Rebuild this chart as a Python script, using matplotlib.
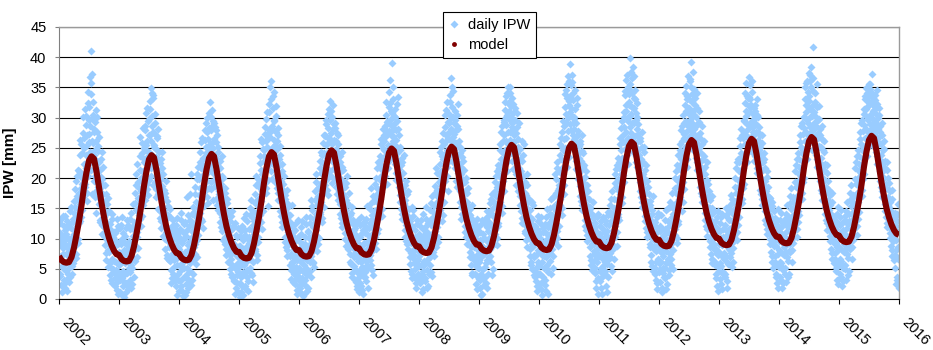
import matplotlib
matplotlib.use("Agg")
import matplotlib.pyplot as plt
from matplotlib.lines import Line2D

plt.rcParams['font.family'] = ['Liberation Sans', 'DejaVu Sans']

years = list(range(2002, 2016))
year_ticks = list(range(2002, 2017))

# Daily IPW [mm]: two interleaved 3-day samplings per year, one row per month
ipw_2002 = [
    9.8, 4.2, 12.5, 7.1, 2.3, 10.6, 5.5, 13.8, 8.4, 3.1,
    6.2, 11.4, 1.9, 8.8, 4.6, 12.9, 3.3, 7.7, 10.1, 5.2,
    2.8, 9.3, 14.6, 6.5, 11.8, 4.1, 8.2, 13.2, 5.9, 10.7,
    8.6, 15.2, 11.3, 19.5, 6.8, 13.7, 17.1, 9.9, 21.4, 12.6,
    16.4, 23.8, 12.9, 20.2, 25.6, 14.8, 19.1, 30.1, 17.5, 22.3,
    24.9, 18.6, 31.5, 21.7, 28.8, 16.2, 25.4, 34.2, 20.3, 29.6,
    27.3, 36.8, 22.5, 33.9, 41.1, 17.4, 37.2, 25.8, 30.4, 19.6,
    28.1, 16.9, 24.7, 31.2, 14.3, 22.8, 27.6, 18.5, 25.3, 15.7,
    22.6, 12.8, 18.4, 15.9, 23.1, 10.7, 19.8, 14.2, 17.3, 11.9,
    13.5, 8.9, 18.9, 11.2, 6.4, 15.7, 9.8, 12.4, 5.3, 14.6,
    7.8, 11.6, 3.9, 9.4, 5.1, 13.3, 2.6, 8.5, 10.2, 4.4,
    6.3, 2.1, 9.7, 4.8, 11.2, 1.5, 7.4, 3.6, 12.1, 5.7,
]
ipw_2002_b = [
    11.1, 6.7, 3.8, 13.2, 8.9, 1.2, 10.3, 5.1, 7.4, 12.0,
    9.6, 2.7, 13.8, 5.9, 10.8, 7.3, 1.4, 11.9, 4.1, 8.3,
    12.4, 7.2, 3.6, 10.1, 15.3, 5.4, 9.1, 12.8, 6.6, 16.2,
    14.3, 10.6, 18.2, 7.5, 16.4, 12.1, 20.3, 9.2, 14.9, 17.6,
    21.2, 15.7, 26.3, 18.3, 13.6, 24.1, 20.6, 16.9, 27.5, 19.4,
    26.7, 22.4, 19.1, 30.3, 23.8, 27.2, 17.5, 32.4, 21.1, 25.9,
    31.8, 24.4, 28.6, 35.7, 21.3, 29.9, 26.1, 32.6, 23.3, 27.7,
    23.9, 29.3, 20.4, 26.2, 17.8, 30.1, 21.6, 24.5, 19.2, 26.8,
    16.7, 21.4, 13.1, 20.2, 16.1, 24.4, 12.2, 18.9, 21.8, 14.8,
    10.4, 16.2, 12.9, 7.6, 17.4, 10.1, 14.2, 8.1, 16.7, 11.5,
    9.1, 5.9, 12.4, 3.2, 10.8, 6.7, 14.1, 4.9, 8.1, 11.1,
    8.6, 3.4, 10.9, 6.1, 2.7, 13.2, 4.3, 9.1, 0.9, 7.8,
]
ipw_2003 = [
    4.3, 9.6, 1.2, 7.5, 12.3, 3.4, 6.8, 10.9, 2.2, 8.1,
    0.4, 5.9, 9.2, 2.7, 7.3, 13.1, 4.5, 1.6, 8.7, 6.1,
    7.9, 3.2, 11.5, 5.6, 14.2, 8.8, 2.5, 10.4, 6.7, 12.8,
    9.1, 15.8, 6.3, 12.6, 18.9, 10.2, 22.4, 8.4, 16.7, 13.9,
    14.6, 21.3, 26.8, 17.9, 12.1, 24.2, 19.4, 28.3, 15.5, 22.7,
    20.8, 27.9, 16.4, 24.6, 30.7, 18.2, 26.1, 22.9, 29.4, 19.7,
    24.3, 32.8, 27.2, 34.9, 21.6, 34.1, 28.7, 18.9, 33.2, 25.5,
    27.4, 19.3, 30.6, 23.5, 16.8, 26.9, 21.1, 28.2, 14.9, 24.4,
    17.6, 22.5, 13.4, 19.8, 11.7, 24.3, 15.2, 20.6, 10.4, 18.1,
    12.7, 16.9, 8.3, 14.1, 19.5, 10.6, 7.2, 15.4, 11.8, 9.5,
    6.4, 10.3, 13.6, 4.8, 8.9, 11.9, 3.5, 7.6, 12.2, 5.3,
    9.9, 3.8, 7.1, 11.4, 2.2, 5.6, 13.4, 4.1, 8.6, 1.3,
]
ipw_2003_b = [
    5.8, 11.7, 3.1, 9.1, 0.9, 6.2, 13.6, 4.7, 10.1, 2.8,
    3.9, 10.4, 6.6, 1.1, 11.8, 4.3, 8.1, 2.1, 12.2, 5.1,
    9.6, 4.4, 13.3, 7.1, 1.8, 11.9, 5.2, 15.7, 8.1, 3.7,
    11.4, 17.6, 8.2, 14.8, 20.7, 11.1, 6.9, 15.1, 19.3, 12.2,
    18.4, 13.3, 23.6, 20.1, 16.6, 25.8, 13.8, 21.1, 17.2, 24.9,
    23.2, 17.8, 28.6, 21.4, 25.4, 19.1, 31.6, 23.7, 17.2, 27.1,
    29.8, 22.7, 31.5, 26.1, 20.3, 30.2, 23.9, 27.6, 33.8, 22.1,
    25.1, 21.9, 29.1, 18.2, 24.8, 20.1, 26.7, 17.4, 23.1, 19.9,
    20.9, 14.6, 16.8, 23.2, 12.9, 18.7, 21.6, 14.1, 17.3, 12.2,
    14.8, 9.9, 17.6, 11.1, 13.3, 6.8, 16.2, 10.1, 13.9, 8.6,
    9.4, 14.9, 6.3, 11.2, 2.6, 9.8, 7.1, 13.1, 4.1, 10.7,
    6.4, 10.6, 2.9, 8.9, 12.3, 0.7, 6.8, 9.7, 3.2, 11.1,
]
ipw_2004 = [
    8.2, 2.9, 11.6, 5.4, 14.3, 1.4, 9.7, 6.6, 3.5, 12.4,
    5.1, 0.6, 7.8, 10.5, 2.4, 16.8, 4.2, 8.9, 1.8, 6.3,
    9.4, 4.7, 13.1, 7.2, 20.6, 3.1, 11.3, 6.5, 15.2, 8.6,
    11.9, 7.4, 17.3, 13.6, 5.8, 19.9, 9.7, 15.1, 21.8, 12.4,
    15.7, 22.6, 18.3, 13.2, 25.9, 20.4, 16.6, 23.3, 11.8, 19.2,
    21.4, 26.3, 17.8, 24.1, 29.2, 19.5, 27.6, 22.8, 15.9, 25.3,
    30.8, 24.7, 32.6, 19.4, 27.9, 31.3, 22.1, 29.5, 16.3, 26.4,
    23.6, 28.4, 18.7, 25.9, 21.2, 15.6, 27.1, 20.5, 24.3, 17.4,
    19.6, 14.3, 22.8, 11.9, 17.1, 20.4, 13.5, 18.2, 9.8, 16.2,
    12.3, 17.5, 9.1, 14.6, 7.3, 11.4, 15.8, 6.2, 10.7, 13.9,
    8.4, 4.9, 11.3, 6.7, 13.8, 3.6, 9.5, 5.5, 12.1, 7.8,
    3.2, 7.9, 0.9, 5.7, 10.6, 2.6, 8.3, 4.4, 11.8, 6.1,
]
ipw_2004_b = [
    10.2, 4.6, 7.7, 13.1, 2.1, 9.2, 5.9, 11.1, 0.5, 7.1,
    9.9, 3.7, 12.8, 6.9, 1.1, 11.4, 5.2, 8.1, 13.9, 3.1,
    12.1, 5.9, 17.4, 10.1, 2.3, 14.1, 7.9, 12.6, 4.1, 10.9,
    14.4, 9.1, 18.6, 11.6, 16.1, 6.9, 20.6, 13.1, 10.6, 17.2,
    19.9, 14.3, 24.4, 17.1, 21.6, 12.9, 26.7, 18.6, 22.2, 15.4,
    23.3, 18.6, 27.9, 20.7, 25.1, 16.8, 29.9, 22.1, 26.5, 18.3,
    28.3, 21.3, 25.6, 30.1, 18.2, 23.8, 28.6, 20.9, 24.9, 29.1,
    26.2, 19.9, 22.6, 27.9, 16.6, 23.1, 19.1, 25.1, 14.8, 21.8,
    17.9, 21.7, 12.8, 19.1, 15.2, 23.7, 11.2, 16.9, 20.1, 14.1,
    15.1, 10.2, 18.4, 8.3, 13.1, 16.6, 9.8, 12.1, 7.9, 14.4,
    10.6, 7.2, 12.9, 4.1, 9.1, 14.6, 5.6, 8.2, 11.7, 2.9,
    9.1, 5.1, 12.6, 1.8, 7.2, 3.9, 10.2, 6.9, 1.2, 8.7,
]
ipw_2005 = [
    5.3, 0.3, 8.7, 3.6, 11.2, 6.9, 2.1, 9.8, 4.5, 13.4,
    7.4, 3.9, 10.6, 1.7, 6.2, 12.9, 4.8, 8.1, 2.9, 9.3,
    11.5, 6.6, 15.1, 4.3, 9.7, 13.6, 7.8, 2.8, 12.2, 8.9,
    10.8, 17.4, 7.9, 14.2, 20.3, 12.1, 6.5, 16.6, 9.4, 13.3,
    18.6, 13.9, 22.5, 26.4, 16.2, 20.7, 11.6, 24.8, 17.3, 21.1,
    23.7, 19.2, 27.3, 29.8, 17.6, 25.1, 21.9, 26.6, 15.4, 22.4,
    32.2, 26.8, 35.1, 22.6, 36.0, 28.7, 19.9, 33.6, 25.2, 29.4,
    34.3, 24.5, 19.3, 27.7, 31.9, 21.8, 26.2, 17.5, 28.3, 23.1,
    22.1, 16.4, 25.3, 13.7, 19.6, 21.2, 11.9, 18.1, 15.3, 20.3,
    14.8, 10.3, 17.2, 8.6, 12.5, 15.9, 7.1, 11.1, 13.8, 9.2,
    9.7, 5.6, 12.8, 7.4, 3.3, 10.9, 15.6, 6.2, 8.8, 4.1,
    5.2, 9.6, 2.4, 7.3, 12.6, 0.9, 6.4, 3.8, 10.3, 4.7,
]
ipw_2005_b = [
    7.9, 2.6, 10.4, 5.7, 1.1, 12.1, 4.2, 8.3, 0.6, 6.4,
    5.7, 11.4, 2.2, 8.6, 14.1, 3.6, 10.1, 6.7, 1.3, 9.9,
    10.2, 5.1, 13.9, 8.1, 16.4, 3.9, 11.4, 6.1, 14.6, 9.6,
    12.9, 8.3, 15.8, 11.2, 18.9, 7.2, 14.1, 19.8, 10.2, 15.3,
    19.4, 15.1, 23.6, 12.8, 21.3, 17.9, 25.9, 14.6, 19.8, 22.8,
    24.6, 20.1, 28.4, 18.3, 26.1, 22.8, 30.9, 19.7, 23.4, 27.9,
    30.9, 24.1, 27.6, 33.1, 21.1, 28.1, 24.8, 31.6, 22.4, 26.3,
    29.6, 22.7, 25.4, 20.5, 30.2, 18.4, 24.8, 27.1, 16.3, 22.2,
    18.7, 23.9, 14.6, 20.8, 17.2, 12.8, 22.4, 16.9, 19.1, 13.8,
    13.2, 16.6, 9.4, 14.4, 11.8, 18.1, 8.1, 12.9, 15.2, 10.4,
    11.3, 7.1, 13.9, 4.8, 9.2, 12.1, 6.1, 10.4, 2.8, 8.3,
    6.9, 3.1, 11.4, 5.3, 8.2, 1.5, 9.9, 4.6, 13.1, 2.2,
]
ipw_2006 = [
    3.1, 8.4, 1.2, 6.1, 10.7, 2.6, 12.9, 4.7, 7.5, 0.8,
    5.6, 9.1, 2.3, 7.2, 13.6, 3.9, 6.4, 11.3, 1.9, 8.3,
    8.8, 12.5, 4.6, 16.3, 7.1, 10.4, 14.7, 6.2, 11.9, 5.3,
    13.2, 9.5, 17.8, 11.4, 20.6, 7.9, 15.5, 12.7, 18.4, 10.1,
    16.9, 21.7, 14.1, 24.3, 19.2, 12.8, 22.6, 17.5, 25.8, 15.3,
    22.3, 27.1, 18.9, 25.4, 29.6, 20.7, 24.2, 28.3, 17.2, 26.5,
    31.4, 23.8, 32.7, 27.4, 20.3, 30.1, 25.6, 32.1, 22.7, 28.9,
    26.3, 29.2, 21.4, 24.8, 18.6, 27.5, 22.9, 16.3, 25.7, 20.1,
    20.8, 15.7, 23.6, 13.4, 18.9, 21.9, 12.6, 17.4, 14.8, 19.3,
    14.2, 18.6, 10.9, 16.3, 8.7, 13.1, 20.4, 11.6, 9.4, 15.5,
    11.3, 7.5, 13.9, 5.8, 9.6, 15.2, 4.3, 10.8, 12.4, 6.9,
    8.2, 4.9, 11.7, 2.8, 7.1, 9.9, 1.6, 6.3, 13.1, 3.7,
]
ipw_2006_b = [
    5.2, 9.4, 1.8, 7.1, 11.9, 3.4, 6.6, 0.5, 9.1, 4.4,
    7.9, 3.1, 10.2, 5.1, 12.4, 1.4, 8.6, 4.6, 11.1, 6.8,
    10.1, 6.1, 13.6, 9.2, 3.6, 15.4, 7.7, 12.2, 5.9, 9.9,
    11.9, 16.3, 8.6, 14.1, 19.3, 10.4, 13.6, 17.1, 9.1, 15.6,
    18.6, 14.4, 22.9, 16.1, 20.8, 13.4, 23.9, 18.1, 21.1, 27.2,
    24.1, 19.6, 26.9, 21.9, 28.9, 18.1, 23.4, 30.6, 20.1, 25.9,
    26.7, 21.1, 29.6, 24.4, 31.1, 19.2, 26.1, 23.1, 28.1, 21.6,
    23.7, 28.3, 19.8, 26.2, 21.9, 17.4, 24.4, 20.6, 27.2, 18.9,
    17.9, 22.6, 14.1, 19.8, 16.1, 24.4, 11.9, 18.4, 21.3, 15.2,
    12.4, 16.9, 9.9, 14.7, 19.2, 11.1, 15.9, 8.2, 13.6, 17.6,
    8.6, 12.9, 6.2, 10.1, 14.3, 3.6, 9.2, 13.1, 7.3, 11.4,
    5.4, 10.8, 3.1, 8.6, 12.4, 2.1, 7.7, 4.3, 10.3, 1.1,
]
ipw_2007 = [
    6.8, 2.7, 10.3, 4.9, 13.6, 8.1, 1.5, 11.4, 3.8, 7.6,
    9.2, 4.4, 12.1, 6.3, 2.9, 15.4, 7.8, 10.6, 5.1, 8.5,
    11.8, 7.2, 14.9, 5.6, 18.3, 9.6, 13.3, 3.9, 10.9, 16.2,
    14.6, 10.2, 19.1, 12.8, 8.3, 17.4, 21.6, 11.5, 15.9, 13.4,
    19.8, 15.2, 23.6, 17.7, 26.5, 13.8, 21.4, 24.9, 18.6, 27.2,
    26.1, 21.3, 28.7, 23.9, 30.4, 19.1, 27.3, 29.5, 22.6, 31.8,
    34.2, 27.6, 36.3, 29.8, 25.4, 39.0, 30.7, 26.9, 35.1, 28.2,
    28.9, 22.4, 31.5, 26.3, 19.7, 29.4, 24.1, 33.4, 21.8, 27.1,
    21.5, 17.2, 24.6, 14.9, 19.8, 22.7, 13.2, 18.3, 16.4, 23.9,
    15.7, 11.4, 18.8, 9.6, 14.1, 12.5, 17.3, 8.2, 13.6, 10.7,
    10.8, 6.9, 13.4, 4.6, 9.2, 12.1, 3.4, 8.1, 14.7, 5.9,
    7.3, 3.5, 10.2, 5.8, 1.9, 8.6, 12.4, 4.2, 6.7, 9.8,
]
ipw_2007_b = [
    9.1, 4.1, 12.2, 6.1, 2.2, 10.9, 5.3, 8.9, 0.9, 12.7,
    6.6, 10.9, 3.6, 8.1, 13.2, 5.6, 11.7, 1.8, 9.6, 7.1,
    8.9, 12.6, 6.4, 15.8, 10.3, 4.8, 13.9, 8.1, 17.1, 11.6,
    12.1, 16.6, 9.2, 20.1, 13.9, 18.4, 10.9, 15.1, 22.6, 14.2,
    18.1, 22.4, 16.6, 25.7, 20.3, 14.9, 23.1, 19.2, 28.1, 21.9,
    24.6, 28.1, 20.4, 26.9, 32.6, 23.1, 29.3, 25.4, 21.6, 27.8,
    29.1, 24.6, 32.4, 27.1, 31.1, 23.3, 28.6, 33.1, 26.1, 30.2,
    25.4, 30.1, 23.6, 27.9, 20.9, 32.3, 25.1, 22.9, 28.1, 18.6,
    20.3, 25.1, 16.1, 22.1, 18.9, 14.1, 23.3, 17.8, 20.9, 15.8,
    13.1, 16.4, 10.3, 19.6, 12.2, 15.1, 9.1, 17.9, 11.1, 14.9,
    9.8, 12.9, 5.8, 11.6, 7.6, 15.3, 4.1, 10.1, 13.8, 6.6,
    8.1, 4.9, 11.4, 2.6, 9.1, 6.3, 13.1, 3.3, 7.9, 10.8,
]
ipw_2008 = [
    5.4, 10.2, 2.6, 7.9, 13.1, 4.1, 8.8, 1.7, 11.5, 6.3,
    8.7, 3.4, 11.9, 6.1, 15.3, 4.8, 9.5, 2.2, 12.6, 7.4,
    10.6, 14.8, 6.9, 12.2, 4.5, 17.1, 9.3, 13.5, 7.7, 11.1,
    15.4, 11.2, 18.7, 8.6, 14.3, 20.9, 12.5, 16.8, 10.3, 19.4,
    17.6, 22.3, 14.7, 25.1, 19.9, 12.9, 23.7, 18.2, 27.4, 16.1,
    23.2, 28.4, 19.6, 26.1, 31.2, 21.8, 24.7, 29.3, 17.9, 27.5,
    30.6, 25.2, 33.8, 28.1, 36.5, 22.9, 31.7, 26.8, 34.4, 29.2,
    27.3, 31.1, 22.4, 25.8, 19.6, 28.6, 23.7, 32.2, 20.8, 26.1,
    22.4, 17.8, 25.2, 15.3, 20.6, 23.5, 14.1, 19.2, 16.7, 21.3,
    16.4, 12.1, 19.3, 10.2, 14.8, 17.6, 9.1, 13.5, 11.6, 15.2,
    12.3, 7.8, 14.9, 5.7, 10.4, 13.2, 4.3, 9.1, 11.6, 6.5,
    8.6, 4.1, 11.4, 6.8, 2.5, 9.7, 13.3, 5.2, 7.5, 3.3,
]
ipw_2008_b = [
    7.1, 3.3, 12.1, 5.6, 9.6, 1.2, 8.1, 14.1, 4.6, 10.6,
    5.6, 10.1, 2.9, 13.3, 7.9, 1.8, 11.1, 6.6, 9.9, 4.1,
    8.4, 13.1, 5.6, 15.9, 10.1, 12.9, 3.8, 9.9, 14.4, 7.1,
    13.3, 17.6, 9.9, 15.9, 21.6, 11.9, 18.1, 13.9, 9.4, 17.2,
    20.6, 16.1, 24.3, 21.1, 15.6, 26.1, 18.9, 23.1, 13.9, 20.9,
    25.6, 22.1, 30.4, 24.1, 27.1, 20.3, 32.6, 26.6, 22.6, 29.1,
    27.6, 32.6, 24.4, 29.9, 26.1, 35.1, 27.9, 23.6, 30.1, 25.9,
    24.6, 29.6, 21.6, 27.9, 23.1, 30.4, 18.6, 25.3, 28.1, 21.3,
    18.9, 24.1, 16.1, 21.9, 13.3, 19.9, 24.6, 17.2, 22.8, 15.6,
    13.9, 17.9, 11.1, 15.7, 20.1, 12.9, 16.1, 10.6, 18.4, 14.1,
    9.9, 13.9, 6.9, 11.9, 8.6, 15.6, 3.9, 10.8, 7.1, 12.7,
    9.1, 5.6, 12.4, 3.9, 10.6, 7.1, 1.6, 8.1, 11.9, 6.1,
]
ipw_2009 = [
    6.5, 1.9, 9.8, 4.2, 12.4, 7.6, 0.9, 10.7, 3.3, 8.4,
    10.1, 5.3, 13.2, 2.7, 8.1, 14.6, 6.4, 11.3, 4.1, 9.2,
    12.8, 8.3, 15.9, 6.1, 11.1, 17.4, 9.6, 13.9, 4.9, 10.5,
    13.6, 17.9, 10.7, 20.3, 15.4, 8.9, 18.6, 12.1, 22.1, 14.5,
    20.4, 16.1, 24.6, 18.3, 27.7, 14.2, 22.5, 26.1, 19.6, 29.3,
    27.1, 31.3, 23.4, 33.6, 28.8, 21.2, 30.4, 35.0, 25.6, 32.2,
    29.7, 34.1, 26.3, 31.9, 24.1, 33.2, 28.4, 21.5, 30.8, 27.2,
    25.9, 29.6, 21.3, 27.4, 18.8, 24.2, 30.7, 22.6, 26.5, 19.9,
    21.7, 17.1, 24.8, 14.6, 20.2, 22.9, 13.4, 18.5, 16.3, 25.6,
    15.8, 19.4, 11.3, 17.2, 9.7, 14.1, 20.6, 12.4, 10.5, 16.6,
    11.9, 8.2, 14.7, 6.1, 10.6, 13.3, 4.9, 9.4, 15.6, 7.3,
    8.9, 4.6, 12.1, 2.9, 7.2, 10.3, 1.4, 6.1, 13.7, 5.4,
]
ipw_2009_b = [
    5.1, 11.1, 3.1, 8.9, 0.7, 7.1, 13.1, 4.9, 9.9, 2.3,
    7.4, 12.4, 3.6, 9.8, 5.9, 11.9, 1.9, 8.6, 13.8, 6.9,
    10.1, 14.6, 7.1, 12.2, 16.6, 8.8, 3.9, 11.9, 15.1, 9.1,
    16.1, 11.4, 19.4, 13.1, 17.1, 10.1, 21.1, 15.6, 12.6, 19.1,
    21.6, 17.4, 25.6, 19.1, 23.1, 15.4, 28.6, 20.9, 24.1, 17.9,
    29.6, 24.6, 32.6, 26.1, 30.1, 22.6, 34.1, 27.6, 24.1, 31.1,
    32.6, 27.6, 35.0, 25.1, 30.1, 22.9, 29.1, 25.9, 32.3, 23.9,
    27.9, 23.1, 31.6, 24.6, 20.6, 28.4, 22.1, 25.1, 17.9, 29.1,
    19.1, 23.1, 15.6, 21.1, 18.1, 26.1, 12.6, 20.3, 23.9, 17.4,
    13.1, 17.6, 10.9, 15.1, 12.1, 18.9, 8.6, 14.9, 16.1, 11.9,
    10.1, 13.6, 7.1, 12.6, 5.6, 9.1, 16.1, 8.8, 11.4, 3.9,
    6.9, 10.9, 3.6, 9.6, 5.1, 11.6, 2.1, 8.1, 12.9, 4.1,
]
ipw_2010 = [
    5.8, 10.9, 2.4, 8.1, 13.5, 0.6, 7.2, 11.8, 3.7, 9.5,
    7.1, 12.4, 3.2, 9.8, 1.3, 14.9, 5.6, 10.6, 4.4, 8.3,
    9.9, 14.1, 6.3, 11.7, 16.6, 8.2, 13.3, 5.1, 10.8, 15.4,
    12.6, 17.2, 9.4, 19.8, 14.5, 22.6, 11.3, 16.1, 8.7, 18.9,
    18.3, 23.9, 15.6, 26.7, 20.8, 13.9, 25.2, 21.9, 29.5, 17.4,
    26.4, 31.8, 22.7, 29.1, 34.6, 24.3, 33.2, 27.8, 36.9, 23.5,
    32.7, 38.8, 28.9, 35.4, 25.6, 37.1, 30.3, 27.2, 34.1, 29.8,
    28.2, 24.6, 31.4, 21.5, 26.9, 33.2, 23.1, 27.8, 19.8, 25.3,
    23.3, 18.7, 26.1, 16.2, 21.4, 24.5, 14.8, 19.9, 17.6, 22.2,
    17.3, 13.1, 20.2, 11.4, 15.7, 18.8, 9.6, 14.2, 12.5, 16.5,
    12.7, 8.6, 15.3, 6.4, 11.2, 14.1, 4.8, 9.7, 13.4, 7.5,
    9.1, 4.3, 11.9, 6.6, 1.8, 8.2, 13.6, 3.5, 7.4, 10.5,
]
ipw_2010_b = [
    7.9, 4.1, 10.1, 1.6, 12.4, 6.1, 9.1, 2.9, 11.1, 5.1,
    9.1, 2.3, 11.1, 6.9, 13.6, 4.9, 8.9, 0.9, 11.9, 7.6,
    12.6, 7.6, 15.1, 9.6, 4.1, 13.9, 11.1, 16.9, 7.1, 12.1,
    15.1, 10.6, 20.6, 13.6, 17.6, 10.1, 21.6, 14.1, 18.1, 12.1,
    21.1, 16.6, 25.6, 19.6, 23.1, 15.1, 27.6, 20.6, 24.6, 18.9,
    28.6, 24.9, 33.9, 26.6, 30.6, 21.9, 35.6, 29.9, 25.1, 32.1,
    36.1, 30.9, 33.6, 27.9, 31.6, 24.9, 35.9, 29.1, 32.9, 26.4,
    30.1, 26.1, 34.6, 22.9, 29.1, 25.6, 32.1, 21.1, 27.1, 24.1,
    20.9, 25.6, 17.1, 22.9, 19.1, 27.1, 15.6, 21.9, 24.1, 18.4,
    14.9, 19.1, 12.1, 16.9, 21.1, 13.9, 10.6, 17.9, 15.1, 11.1,
    10.1, 14.9, 7.1, 12.1, 5.6, 13.9, 9.1, 16.1, 6.1, 11.6,
    7.9, 12.6, 5.1, 9.6, 2.9, 11.1, 6.1, 14.1, 0.9, 8.6,
]
ipw_2011 = [
    7.3, 2.9, 10.8, 5.1, 12.9, 0.8, 8.5, 4.2, 11.6, 6.4,
    9.6, 4.7, 13.1, 7.3, 2.1, 11.2, 5.8, 14.4, 3.6, 8.9,
    12.2, 7.6, 15.6, 9.8, 5.4, 13.7, 17.9, 8.3, 11.4, 6.6,
    14.4, 10.3, 19.2, 12.7, 21.5, 8.8, 16.3, 23.4, 13.5, 17.8,
    21.6, 17.3, 25.7, 19.2, 28.3, 15.8, 23.4, 27.1, 20.5, 30.9,
    28.5, 33.7, 24.8, 31.1, 36.2, 26.3, 29.9, 35.1, 22.4, 32.6,
    34.8, 39.8, 30.2, 37.6, 27.4, 36.5, 31.8, 38.3, 25.9, 33.3,
    29.1, 34.5, 25.3, 30.8, 22.7, 28.1, 32.4, 24.6, 27.3, 20.9,
    23.8, 19.4, 26.6, 16.9, 22.1, 25.1, 15.3, 20.7, 18.2, 24.3,
    18.1, 13.7, 21.3, 11.8, 16.2, 19.6, 10.2, 14.9, 12.7, 17.4,
    13.5, 9.1, 16.2, 7.3, 11.6, 14.8, 5.4, 10.4, 12.3, 8.2,
    9.7, 5.2, 12.8, 3.1, 7.9, 11.1, 1.7, 6.6, 14.2, 4.4,
]
ipw_2011_b = [
    9.1, 4.6, 12.1, 6.9, 1.9, 10.1, 3.6, 13.6, 7.9, 5.6,
    11.1, 6.1, 8.1, 12.4, 3.9, 10.4, 1.1, 9.1, 13.9, 6.6,
    10.1, 14.4, 6.9, 12.9, 16.6, 9.1, 4.6, 13.1, 10.9, 15.1,
    16.6, 12.1, 20.6, 15.1, 18.6, 11.1, 22.1, 14.1, 19.9, 13.1,
    22.6, 18.6, 26.6, 20.6, 24.6, 16.9, 29.4, 22.1, 25.9, 19.4,
    30.1, 25.9, 34.4, 27.6, 32.1, 23.9, 37.1, 29.4, 26.6, 33.9,
    32.1, 28.4, 35.6, 30.6, 26.6, 34.1, 29.1, 31.6, 24.4, 36.9,
    31.6, 26.9, 33.1, 23.6, 29.6, 21.9, 30.1, 26.1, 28.9, 23.1,
    21.6, 26.1, 17.9, 23.1, 20.1, 27.6, 16.1, 22.6, 19.1, 25.1,
    15.1, 19.9, 12.9, 17.6, 22.1, 14.1, 11.1, 18.6, 16.1, 13.1,
    11.1, 15.6, 8.6, 13.1, 6.1, 14.1, 10.1, 17.1, 4.6, 12.6,
    8.6, 12.1, 4.1, 10.1, 6.1, 13.6, 2.6, 9.1, 11.6, 5.9,
]
ipw_2012 = [
    6.2, 11.3, 2.8, 8.7, 13.9, 1.1, 7.6, 10.4, 4.3, 9.1,
    8.4, 3.5, 11.6, 5.9, 14.7, 2.4, 9.8, 12.9, 6.7, 4.8,
    10.9, 15.3, 7.4, 12.8, 5.7, 17.6, 9.2, 14.1, 8.1, 11.7,
    13.8, 18.4, 10.6, 21.2, 15.9, 9.3, 19.7, 12.4, 23.8, 16.6,
    20.1, 24.7, 16.8, 27.9, 22.3, 14.6, 26.2, 19.4, 30.4, 18.2,
    27.3, 32.1, 23.6, 35.3, 29.4, 21.8, 33.6, 26.7, 36.9, 24.9,
    31.6, 36.4, 28.2, 39.2, 25.7, 33.9, 30.1, 37.5, 27.4, 34.8,
    30.5, 26.1, 33.2, 23.4, 28.7, 31.6, 21.3, 27.2, 24.8, 29.3,
    24.9, 20.3, 27.4, 17.6, 22.8, 25.7, 16.1, 21.5, 18.9, 23.6,
    18.6, 14.2, 21.8, 12.1, 16.9, 19.7, 10.5, 15.3, 13.4, 17.2,
    13.8, 9.6, 16.4, 7.5, 12.2, 15.1, 5.9, 10.8, 14.3, 8.3,
    10.2, 5.6, 12.9, 3.4, 8.3, 11.5, 2.1, 7.2, 14.6, 4.7,
]
ipw_2012_b = [
    8.1, 4.9, 12.1, 6.1, 9.9, 1.9, 11.6, 5.1, 7.1, 3.6,
    10.6, 5.1, 13.1, 7.9, 1.6, 11.1, 6.1, 9.1, 15.1, 3.9,
    12.1, 8.6, 16.1, 10.1, 6.6, 13.6, 9.9, 15.1, 4.9, 12.9,
    15.6, 11.6, 20.1, 14.1, 17.6, 10.1, 22.1, 16.1, 12.9, 18.9,
    21.6, 17.6, 25.6, 23.1, 18.9, 28.6, 21.1, 24.1, 16.1, 26.6,
    29.1, 25.1, 34.1, 27.6, 31.1, 23.1, 33.1, 28.6, 26.1, 30.6,
    33.1, 29.6, 36.1, 27.1, 35.1, 29.1, 32.6, 24.6, 31.1, 28.6,
    28.1, 32.1, 24.6, 30.1, 26.6, 34.1, 22.6, 29.1, 25.6, 31.1,
    22.1, 26.6, 18.6, 24.1, 20.6, 28.6, 17.1, 23.1, 19.6, 26.1,
    16.1, 20.6, 13.1, 18.1, 15.1, 22.6, 11.6, 19.1, 14.6, 17.9,
    11.6, 15.1, 8.6, 13.1, 10.1, 17.1, 6.6, 12.6, 9.1, 14.6,
    9.1, 12.1, 6.1, 10.9, 4.1, 13.6, 7.6, 1.4, 11.6, 5.1,
]
ipw_2013 = [
    7.7, 3.3, 11.2, 5.4, 13.6, 1.6, 8.9, 10.3, 4.5, 6.8,
    9.4, 4.2, 12.3, 7.1, 15.1, 2.9, 10.6, 5.8, 13.4, 8.2,
    11.6, 6.9, 14.7, 9.3, 17.2, 5.3, 12.9, 16.1, 8.5, 10.4,
    14.9, 10.8, 18.6, 13.1, 21.7, 9.7, 16.4, 23.1, 12.3, 19.5,
    21.2, 17.4, 25.3, 19.8, 28.1, 15.9, 23.7, 26.6, 18.3, 29.4,
    27.6, 32.4, 24.1, 30.2, 35.8, 22.6, 28.9, 33.3, 25.7, 36.8,
    33.5, 29.1, 35.4, 26.8, 31.7, 24.3, 34.2, 28.4, 30.6, 22.9,
    29.7, 25.2, 32.1, 22.9, 27.6, 30.4, 20.8, 26.3, 24.1, 28.5,
    24.6, 19.8, 27.1, 17.4, 22.5, 25.8, 15.6, 21.3, 18.7, 23.2,
    18.9, 14.6, 21.6, 12.4, 17.3, 20.2, 10.8, 15.7, 13.5, 16.8,
    14.1, 9.9, 16.7, 7.8, 12.5, 15.4, 6.2, 11.1, 13.2, 8.7,
    10.6, 6.1, 13.4, 4.2, 8.8, 12.1, 2.6, 7.5, 14.9, 5.3,
]
ipw_2013_b = [
    9.1, 5.9, 12.6, 2.4, 10.1, 7.1, 14.1, 4.1, 11.6, 6.6,
    7.6, 11.6, 3.6, 9.9, 13.9, 6.1, 1.9, 11.1, 8.6, 14.6,
    13.1, 8.1, 15.6, 10.9, 7.6, 16.6, 11.9, 6.1, 14.1, 9.6,
    16.1, 12.1, 20.1, 14.6, 17.6, 11.1, 22.6, 15.1, 18.6, 13.6,
    22.6, 18.6, 26.6, 20.1, 24.1, 16.6, 27.1, 21.6, 23.6, 19.1,
    29.6, 25.6, 34.1, 27.1, 31.1, 24.1, 33.6, 28.1, 26.6, 31.9,
    30.9, 26.6, 33.1, 28.6, 32.1, 25.1, 36.1, 29.6, 27.6, 31.6,
    27.1, 31.1, 23.6, 28.9, 25.6, 33.1, 21.6, 27.6, 30.1, 24.6,
    21.6, 25.1, 18.1, 23.6, 20.1, 27.1, 16.6, 22.6, 19.6, 24.1,
    16.1, 19.6, 13.1, 17.9, 15.1, 21.1, 11.6, 18.6, 14.1, 16.6,
    11.6, 15.1, 9.1, 13.6, 10.6, 16.1, 7.1, 12.6, 5.1, 14.6,
    9.6, 12.6, 7.1, 11.1, 3.6, 13.1, 5.6, 9.9, 1.9, 11.9,
]
ipw_2014 = [
    8.1, 3.7, 11.8, 5.9, 14.2, 1.9, 9.4, 12.6, 4.8, 7.2,
    10.2, 5.1, 13.3, 7.7, 2.8, 15.6, 9.1, 6.3, 11.9, 4.2,
    12.4, 7.8, 15.9, 10.1, 18.3, 6.2, 13.6, 9.3, 16.8, 11.2,
    15.3, 11.6, 19.4, 13.9, 22.2, 10.2, 17.1, 24.1, 12.8, 20.6,
    21.8, 18.1, 25.9, 20.4, 28.7, 16.5, 24.2, 27.3, 19.3, 30.1,
    28.3, 33.1, 24.8, 30.9, 35.7, 23.2, 29.6, 34.2, 26.4, 37.4,
    32.8, 28.4, 36.1, 26.5, 38.3, 30.2, 24.7, 41.7, 34.4, 29.1,
    30.9, 26.4, 34.1, 23.8, 28.6, 31.7, 21.9, 27.5, 25.2, 29.8,
    25.3, 20.6, 28.2, 18.1, 23.4, 26.5, 16.4, 22.1, 19.5, 24.3,
    19.5, 15.2, 22.4, 13.1, 17.8, 20.9, 11.4, 16.3, 14.2, 18.1,
    14.7, 10.4, 17.2, 8.3, 13.1, 16.1, 6.6, 11.7, 12.9, 9.2,
    11.1, 6.7, 13.8, 4.6, 9.3, 12.4, 3.1, 8.1, 15.2, 5.6,
]
ipw_2014_b = [
    9.6, 6.1, 13.1, 3.1, 10.9, 7.6, 12.1, 5.1, 2.6, 9.1,
    8.6, 12.6, 4.1, 11.1, 14.1, 6.9, 9.9, 3.6, 12.9, 7.9,
    13.6, 9.1, 17.1, 11.1, 14.9, 8.1, 12.6, 16.1, 10.1, 14.1,
    16.6, 12.6, 21.1, 15.1, 18.6, 11.6, 23.1, 14.6, 19.6, 13.9,
    23.1, 19.1, 27.1, 21.6, 25.1, 17.6, 29.1, 22.6, 24.6, 20.1,
    30.1, 26.1, 35.1, 27.6, 32.1, 24.6, 36.1, 29.1, 27.1, 31.6,
    33.6, 30.1, 37.1, 27.6, 35.1, 31.1, 28.6, 36.6, 32.1, 25.6,
    28.1, 32.6, 24.6, 30.1, 27.1, 35.6, 23.1, 29.6, 26.6, 31.9,
    22.6, 27.1, 19.6, 25.1, 21.6, 28.6, 17.6, 24.6, 20.1, 26.1,
    16.6, 21.1, 14.1, 18.6, 15.6, 22.1, 12.6, 19.6, 13.6, 17.4,
    12.1, 15.6, 9.6, 14.1, 11.1, 17.6, 7.6, 13.6, 10.1, 5.9,
    10.1, 13.1, 7.6, 11.6, 5.1, 14.1, 8.6, 2.4, 12.6, 6.1,
]
ipw_2015 = [
    8.6, 4.1, 12.2, 6.3, 14.8, 2.2, 9.9, 11.4, 5.2, 7.7,
    10.7, 5.6, 13.8, 8.2, 3.1, 16.1, 9.6, 6.8, 12.4, 4.6,
    12.9, 8.3, 16.3, 10.6, 18.8, 6.7, 14.1, 9.8, 17.2, 11.5,
    15.8, 12.1, 19.9, 14.3, 22.7, 10.6, 17.6, 24.6, 13.2, 21.1,
    22.3, 18.6, 26.4, 20.9, 29.2, 17.1, 24.7, 27.8, 19.8, 31.5,
    28.8, 33.6, 25.3, 31.4, 34.9, 23.7, 30.1, 32.8, 26.9, 35.6,
    32.4, 28.9, 34.8, 27.1, 30.6, 37.3, 25.4, 33.2, 29.7, 31.9,
    31.2, 26.9, 33.8, 24.3, 29.1, 32.3, 22.4, 28.1, 25.7, 30.4,
    25.8, 21.1, 28.6, 18.6, 23.9, 27.1, 16.9, 22.6, 20.1, 24.8,
    20.1, 15.7, 22.9, 13.6, 18.3, 21.4, 11.9, 16.8, 14.7, 19.2,
    15.2, 10.9, 17.8, 8.8, 13.6, 16.6, 7.1, 12.2, 14.1, 9.7,
    11.6, 7.2, 14.3, 2.4, 9.8, 12.9, 3.6, 8.6, 15.7, 1.9,
]
ipw_2015_b = [
    10.1, 6.6, 13.6, 3.6, 11.1, 8.1, 12.6, 5.6, 2.9, 9.6,
    9.1, 13.1, 4.9, 11.6, 14.6, 7.4, 10.4, 3.9, 12.4, 8.6,
    14.1, 9.6, 17.6, 11.6, 15.4, 8.6, 13.1, 16.9, 10.6, 14.6,
    17.1, 13.1, 21.6, 15.6, 19.1, 12.1, 23.6, 16.1, 20.1, 14.4,
    23.6, 19.6, 27.6, 22.1, 25.6, 18.1, 29.6, 23.1, 25.1, 20.6,
    30.6, 26.6, 33.1, 28.1, 31.6, 24.9, 34.1, 29.6, 27.6, 32.1,
    33.6, 30.1, 35.6, 28.1, 32.6, 26.4, 34.1, 29.1, 31.1, 27.6,
    28.6, 32.9, 25.1, 30.6, 27.6, 34.6, 23.6, 29.9, 26.6, 31.6,
    23.1, 27.6, 19.6, 25.6, 22.1, 29.1, 17.9, 24.6, 21.1, 26.1,
    17.1, 21.6, 14.6, 19.1, 16.1, 22.6, 12.6, 20.1, 15.6, 18.1,
    12.6, 16.1, 10.1, 14.6, 11.6, 18.1, 8.1, 13.6, 9.6, 6.4,
    10.6, 13.6, 5.1, 12.1, 8.1, 14.1, 3.1, 11.1, 6.6, 2.9,
]

# Seasonal model [mm], two values per month (1st and 16th)
model_2002 = [7.1, 6.4, 6.1, 6.0, 6.1, 6.9, 8.5, 10.6, 12.9, 15.5, 18.5, 21.0,
              22.9, 23.6, 23.2, 21.1, 18.5, 15.9, 13.6, 11.6, 10.1, 8.9, 8.0, 7.4]
model_2003 = [7.3, 6.6, 6.3, 6.2, 6.3, 7.1, 8.7, 10.8, 13.1, 15.7, 18.7, 21.2,
              23.1, 23.8, 23.4, 21.3, 18.7, 16.1, 13.8, 11.8, 10.3, 9.1, 8.2, 7.6]
model_2004 = [7.5, 6.8, 6.5, 6.4, 6.5, 7.3, 8.9, 11.0, 13.3, 15.9, 18.9, 21.4,
              23.3, 24.0, 23.6, 21.5, 18.9, 16.3, 14.0, 12.0, 10.5, 9.3, 8.4, 7.8]
model_2005 = [7.8, 7.1, 6.8, 6.7, 6.8, 7.6, 9.2, 11.3, 13.6, 16.2, 19.2, 21.7,
              23.6, 24.3, 23.9, 21.8, 19.2, 16.6, 14.3, 12.3, 10.8, 9.6, 8.7, 8.1]
model_2006 = [8.1, 7.4, 7.1, 7.0, 7.1, 7.9, 9.5, 11.6, 13.9, 16.5, 19.5, 22.0,
              23.9, 24.6, 24.2, 22.1, 19.5, 16.9, 14.6, 12.6, 11.1, 9.9, 9.0, 8.4]
model_2007 = [8.4, 7.7, 7.4, 7.3, 7.4, 8.2, 9.8, 11.9, 14.2, 16.8, 19.8, 22.3,
              24.2, 24.9, 24.5, 22.4, 19.8, 17.2, 14.9, 12.9, 11.4, 10.2, 9.3, 8.7]
model_2008 = [8.7, 8.0, 7.7, 7.6, 7.7, 8.5, 10.1, 12.2, 14.5, 17.1, 20.1, 22.6,
              24.5, 25.2, 24.8, 22.7, 20.1, 17.5, 15.2, 13.2, 11.7, 10.5, 9.6, 9.0]
model_2009 = [9.0, 8.3, 8.0, 7.9, 8.0, 8.8, 10.4, 12.5, 14.8, 17.4, 20.4, 22.9,
              24.8, 25.5, 25.1, 23.0, 20.4, 17.8, 15.5, 13.5, 12.0, 10.8, 9.9, 9.3]
model_2010 = [9.2, 8.5, 8.2, 8.1, 8.2, 9.0, 10.6, 12.7, 15.0, 17.6, 20.6, 23.1,
              25.0, 25.7, 25.3, 23.2, 20.6, 18.0, 15.7, 13.7, 12.2, 11.0, 10.1, 9.5]
model_2011 = [9.5, 8.8, 8.5, 8.4, 8.5, 9.3, 10.9, 13.0, 15.3, 17.9, 20.9, 23.4,
              25.3, 26.0, 25.6, 23.5, 20.9, 18.3, 16.0, 14.0, 12.5, 11.3, 10.4, 9.8]
model_2012 = [9.8, 9.1, 8.8, 8.7, 8.8, 9.6, 11.2, 13.3, 15.6, 18.2, 21.2, 23.7,
              25.6, 26.3, 25.9, 23.8, 21.2, 18.6, 16.3, 14.3, 12.8, 11.6, 10.7, 10.1]
model_2013 = [10.0, 9.3, 9.0, 8.9, 9.0, 9.8, 11.4, 13.5, 15.8, 18.4, 21.4, 23.9,
              25.8, 26.5, 26.1, 24.0, 21.4, 18.8, 16.5, 14.5, 13.0, 11.8, 10.9, 10.3]
model_2014 = [10.3, 9.6, 9.3, 9.2, 9.3, 10.1, 11.7, 13.8, 16.1, 18.7, 21.7, 24.2,
              26.1, 26.8, 26.4, 24.3, 21.7, 19.1, 16.8, 14.8, 13.3, 12.1, 11.2, 10.6]
model_2015 = [10.5, 9.8, 9.5, 9.4, 9.5, 10.3, 11.9, 14.0, 16.3, 18.9, 21.9, 24.4,
              26.3, 27.0, 26.6, 24.5, 21.9, 19.3, 17.0, 15.0, 13.5, 12.3, 11.4, 10.8]
model_2016_start = 10.6

ipw_series = [ipw_2002, ipw_2003, ipw_2004, ipw_2005, ipw_2006, ipw_2007, ipw_2008,
              ipw_2009, ipw_2010, ipw_2011, ipw_2012, ipw_2013, ipw_2014, ipw_2015]
ipw_series_b = [ipw_2002_b, ipw_2003_b, ipw_2004_b, ipw_2005_b, ipw_2006_b, ipw_2007_b,
                ipw_2008_b, ipw_2009_b, ipw_2010_b, ipw_2011_b, ipw_2012_b, ipw_2013_b,
                ipw_2014_b, ipw_2015_b]
model_series = [model_2002, model_2003, model_2004, model_2005, model_2006, model_2007,
                model_2008, model_2009, model_2010, model_2011, model_2012, model_2013,
                model_2014, model_2015]

# Decimal-year time axis; the second sampling sits half a step later
ipw_t, ipw_v = [], []
for yr, vals_a, vals_b in zip(years, ipw_series, ipw_series_b):
    for shift, vals in ((0.25, vals_a), (0.75, vals_b)):
        n = len(vals)
        for i, v in enumerate(vals):
            ipw_t.append(yr + (i + shift) / n)
            ipw_v.append(v)

model_t, model_v = [], []
for yr, vals in zip(years, model_series):
    n = len(vals)
    for k, v in enumerate(vals):
        model_t.append(yr + k / n)
        model_v.append(v)
model_t.append(2016.0)
model_v.append(model_2016_start)

W, H = 933, 350
fig = plt.figure(figsize=(W / 100, H / 100), dpi=100)
ax = fig.add_axes([59 / W, 1 - 299 / H, 840 / W, 272 / H])

ax.plot(ipw_t, ipw_v, ls='none', marker='D', ms=4.0, mfc='#99CCFF', mec='none', zorder=2)
ax.plot(model_t, model_v, color='#800000', lw=4.4, solid_joinstyle='round',
        solid_capstyle='butt', zorder=3)

ax.set_xlim(2002, 2016)
ax.set_ylim(0, 45)
ax.set_yticks(range(0, 46, 5))
ax.set_xticks(year_ticks)
ax.set_xticklabels([str(y) for y in year_ticks], rotation=-45, ha='left', va='top')

ax.grid(axis='y', color='black', lw=0.8)
ax.set_axisbelow(True)

for side in ('top', 'right'):
    ax.spines[side].set_color('#9a9a9a')
    ax.spines[side].set_linewidth(1.0)
ax.spines['left'].set_color('#808080')
ax.spines['bottom'].set_color('black')
for side in ('left', 'bottom'):
    ax.spines[side].set_linewidth(0.8)

ax.tick_params(axis='y', direction='out', length=3, width=0.8, pad=6, labelsize=10.5,
               colors='black')
ax.tick_params(axis='y', color='#808080')
ax.tick_params(axis='x', direction='out', length=3.5, width=0.8, pad=8, labelsize=10.5,
               colors='black')

ax.set_ylabel('IPW [mm]', fontsize=11, fontweight='bold')
ax.yaxis.set_label_coords(-0.05, 0.5)

handles = [
    Line2D([], [], ls='none', marker='D', ms=4, mfc='#99CCFF', mec='none'),
    Line2D([], [], ls='none', marker='o', ms=3.5, mfc='#800000', mec='none'),
]
leg = fig.legend(handles, ['daily IPW', 'model'], loc='upper left',
                 bbox_to_anchor=(443 / W, 1 - 12 / H), frameon=True, fancybox=False,
                 edgecolor='black', framealpha=1, fontsize=10.5, handlelength=0.7,
                 handletextpad=0.6, borderpad=0.4, labelspacing=0.45, borderaxespad=0)
leg.get_frame().set_linewidth(0.8)

fig.savefig('out.png', dpi=100)
